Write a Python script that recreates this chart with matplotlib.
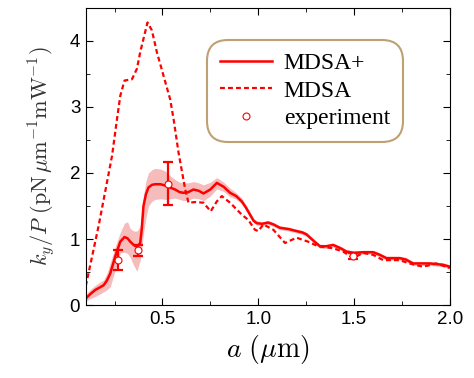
import matplotlib.pyplot as plt

plt.rcParams['mathtext.fontset'] = 'cm'

# MDSA+ (solid) with shaded band
a_plus = [0.10, 0.125, 0.15, 0.175, 0.193, 0.21, 0.228, 0.254, 0.28, 0.302, 0.318, 0.332,
          0.35, 0.367, 0.384, 0.392, 0.401, 0.414, 0.427, 0.445, 0.462, 0.49, 0.514,
          0.54, 0.566, 0.59, 0.61, 0.635, 0.662, 0.69, 0.714, 0.75, 0.784, 0.82,
          0.853, 0.885, 0.914, 0.935, 0.957, 0.975, 0.992, 1.02, 1.052, 1.08, 1.113,
          1.16, 1.2, 1.23, 1.252, 1.29, 1.322, 1.355, 1.391, 1.43, 1.46, 1.5, 1.547,
          1.6, 1.635, 1.669, 1.738, 1.77, 1.808, 1.85, 1.895, 1.93, 1.964, 2.0]
k_plus = [0.10, 0.17, 0.23, 0.27, 0.30, 0.37, 0.48, 0.74, 0.96, 1.03, 1.01, 0.96,
          0.91, 0.88, 0.94, 1.15, 1.50, 1.68, 1.78, 1.82, 1.83, 1.83, 1.81,
          1.78, 1.75, 1.71, 1.70, 1.71, 1.75, 1.73, 1.69, 1.75, 1.85, 1.79,
          1.70, 1.65, 1.57, 1.48, 1.37, 1.28, 1.24, 1.23, 1.25, 1.22, 1.17,
          1.15, 1.12, 1.10, 1.07, 0.97, 0.89, 0.89, 0.91, 0.86, 0.81, 0.79, 0.80,
          0.80, 0.76, 0.71, 0.71, 0.69, 0.63, 0.63, 0.63, 0.62, 0.61, 0.58]
k_plus_lo = [0.06, 0.10, 0.13, 0.17, 0.20, 0.23, 0.28, 0.53, 0.79, 0.80, 0.78, 0.72,
             0.60, 0.51, 0.68, 0.85, 1.09, 1.32, 1.50, 1.57, 1.60, 1.61, 1.60,
             1.61, 1.62, 1.60, 1.58, 1.59, 1.62, 1.61, 1.58, 1.65, 1.76, 1.72,
             1.64, 1.60, 1.53, 1.44, 1.33, 1.25, 1.21, 1.20, 1.22, 1.19, 1.14,
             1.12, 1.09, 1.07, 1.04, 0.94, 0.86, 0.86, 0.88, 0.83, 0.78, 0.76, 0.77,
             0.77, 0.73, 0.68, 0.68, 0.66, 0.60, 0.60, 0.60, 0.59, 0.58, 0.55]
k_plus_hi = [0.16, 0.24, 0.30, 0.35, 0.38, 0.48, 0.64, 0.89, 1.10, 1.24, 1.26, 1.16,
             1.12, 1.12, 1.19, 1.40, 1.65, 1.88, 2.00, 2.05, 2.07, 2.06, 2.03,
             1.96, 1.90, 1.86, 1.85, 1.85, 1.87, 1.85, 1.82, 1.86, 1.93, 1.86,
             1.77, 1.70, 1.62, 1.52, 1.41, 1.31, 1.28, 1.26, 1.28, 1.25, 1.20,
             1.18, 1.15, 1.13, 1.10, 1.00, 0.92, 0.92, 0.94, 0.89, 0.84, 0.82, 0.83,
             0.83, 0.79, 0.74, 0.74, 0.72, 0.66, 0.66, 0.66, 0.65, 0.64, 0.61]

# MDSA (dashed)
a_mdsa = [0.10, 0.167, 0.237, 0.263, 0.28, 0.302, 0.341, 0.367, 0.384, 0.422, 0.445,
          0.471, 0.506, 0.54, 0.558, 0.584, 0.619, 0.636, 0.671, 0.714, 0.752, 0.784,
          0.81, 0.853, 0.914, 0.948, 0.983, 1.0, 1.027, 1.079, 1.14, 1.2, 1.26, 1.313,
          1.391, 1.443, 1.495, 1.547, 1.6, 1.652, 1.738, 1.79, 1.86, 1.93, 2.0]
k_mdsa = [0.29, 1.20, 2.26, 2.82, 3.17, 3.40, 3.42, 3.58, 3.83, 4.28, 4.16,
          3.83, 3.47, 3.12, 2.82, 2.31, 1.75, 1.55, 1.56, 1.55, 1.42, 1.57,
          1.65, 1.55, 1.37, 1.29, 1.14, 1.12, 1.22, 1.14, 0.94, 1.02, 0.96, 0.89,
          0.86, 0.81, 0.71, 0.79, 0.76, 0.68, 0.68, 0.63, 0.58, 0.63, 0.56]

# experiment
a_exp = [0.266, 0.375, 0.528, 1.495]
k_exp = [0.68, 0.83, 1.84, 0.74]
k_err = [0.15, 0.08, 0.32, 0.05]

fig = plt.figure(figsize=(4.74, 3.78), dpi=100)
ax = fig.add_axes([0.181, 0.193, 0.768, 0.786])

ax.fill_between(a_plus, k_plus_lo, k_plus_hi, color='#f5b0b0', alpha=0.85, lw=0)
ax.plot(a_plus, k_plus, color='red', lw=1.8, label='MDSA+')
ax.plot(a_mdsa, k_mdsa, color='red', lw=1.6, ls=(0, (2.2, 1.4)), label='MDSA')
ax.errorbar(a_exp, k_exp, yerr=k_err, fmt='none', ecolor='red', elinewidth=1.6,
            capsize=3.5, capthick=1.6)
ax.plot(a_exp, k_exp, 'o', ms=5, mfc='white', mec='red', mew=0.8, ls='none',
        label='experiment')

ax.set_xlim(0.1, 2.0)
ax.set_ylim(0, 4.5)
ax.set_xticks([0.5, 1.0, 1.5, 2.0])
ax.set_xticks([0.25, 0.75, 1.25, 1.75], minor=True)
ax.set_yticks([0, 1, 2, 3, 4])
ax.set_yticks([0.5, 1.5, 2.5, 3.5], minor=True)
ax.tick_params(which='both', direction='in', top=True, right=True)
ax.tick_params(which='major', length=5, labelsize=13.5, pad=4)
ax.tick_params(which='minor', length=3)
for lab in ax.get_xticklabels() + ax.get_yticklabels():
    lab.set_family('Liberation Sans')

ax.set_xlabel(r'$a\ (\mu\mathrm{m})$', fontsize=20, labelpad=4)
ax.set_ylabel(r'$k_y/P\ (\mathrm{pN}\,\mu\mathrm{m}^{-1}\mathrm{mW}^{-1})$',
              fontsize=16, color='#333333', labelpad=9)

leg = ax.legend(loc='upper left', bbox_to_anchor=(0.323, 0.905),
                prop={'family': 'Liberation Serif', 'size': 17},
                handlelength=2.2, handletextpad=0.5, labelspacing=0.25,
                borderpad=0.2, frameon=True, fancybox=True)
leg.get_frame().set_edgecolor('#b08850')
leg.get_frame().set_linewidth(1.5)
leg.get_frame().set_boxstyle('round', pad=0.35, rounding_size=0.9)

fig.savefig('out.png', dpi=100)
